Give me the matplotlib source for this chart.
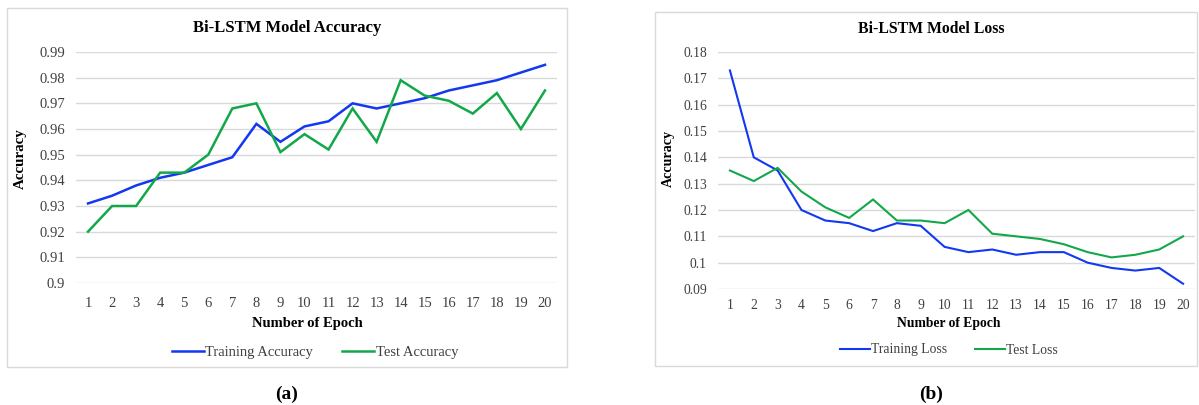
import numpy as np
import matplotlib.pyplot as plt
from matplotlib.patches import Rectangle
from matplotlib.ticker import FuncFormatter

plt.rcParams['font.family'] = ['Liberation Serif', 'DejaVu Serif']

epochs = list(range(1, 21))

train_acc = [0.931, 0.934, 0.938, 0.941, 0.943, 0.946, 0.949, 0.962, 0.955, 0.961,
             0.963, 0.970, 0.968, 0.970, 0.972, 0.975, 0.977, 0.979, 0.982, 0.985]
test_acc = [0.920, 0.930, 0.930, 0.943, 0.943, 0.950, 0.968, 0.970, 0.951, 0.958,
            0.952, 0.968, 0.955, 0.979, 0.973, 0.971, 0.966, 0.974, 0.960, 0.975]

train_loss = [0.173, 0.140, 0.135, 0.120, 0.116, 0.115, 0.112, 0.115, 0.114, 0.106,
              0.104, 0.105, 0.103, 0.104, 0.104, 0.100, 0.098, 0.097, 0.098, 0.092]
test_loss = [0.135, 0.131, 0.136, 0.127, 0.121, 0.117, 0.124, 0.116, 0.116, 0.115,
             0.120, 0.111, 0.110, 0.109, 0.107, 0.104, 0.102, 0.103, 0.105, 0.110]

acc_ticks = [0.90, 0.91, 0.92, 0.93, 0.94, 0.95, 0.96, 0.97, 0.98, 0.99]
loss_ticks = [0.09, 0.10, 0.11, 0.12, 0.13, 0.14, 0.15, 0.16, 0.17, 0.18]

BLUE = '#1238f0'
GREEN = '#12a84a'
GRID = '#d9d9d9'

W, H = 1199, 405
fig = plt.figure(figsize=(W / 100, H / 100), dpi=100)


def px_axes(x0, y0, x1, y1):
    # pixel box (top-left origin) -> figure axes
    return fig.add_axes([x0 / W, 1 - y1 / H, (x1 - x0) / W, (y1 - y0) / H])


def fx(x):
    return x / W


def fy(y):
    return 1 - y / H


def panel(box, area, series, ticks, title, title_xy, xlabel_xy, ylabel_xy,
          legend_xy, fs, lw, xpad):
    bx0, by0, bx1, by1 = box
    fig.patches.append(Rectangle((fx(bx0), fy(by1)), fx(bx1 - bx0), (by1 - by0) / H,
                                 transform=fig.transFigure, fill=False,
                                 edgecolor=GRID, linewidth=1.0))
    ax = px_axes(*area)
    for vals, color, label in series:
        ax.plot(epochs, vals, color=color, lw=lw, label=label,
                solid_joinstyle='miter')
    ax.set_xlim(0.5, 20.5)
    ax.set_ylim(ticks[0], ticks[-1])
    ax.set_xticks(epochs)
    ax.set_yticks(ticks)
    ax.yaxis.set_major_formatter(FuncFormatter(lambda v, p: '%g' % round(v, 3)))
    ax.tick_params(length=0, labelsize=fs, colors='#404040')
    ax.tick_params(axis='x', pad=xpad)
    ax.tick_params(axis='y', pad=8)
    ax.grid(axis='y', color=GRID, lw=1.0)
    ax.set_axisbelow(True)
    for s in ax.spines.values():
        s.set_visible(False)
    fig.text(fx(title_xy[0]), fy(title_xy[1]), title, ha='center', va='center',
             fontsize=fs + 1.5, fontweight='bold')
    fig.text(fx(xlabel_xy[0]), fy(xlabel_xy[1]), 'Number of Epoch', ha='center',
             va='center', fontsize=fs, fontweight='bold')
    fig.text(fx(ylabel_xy[0]), fy(ylabel_xy[1]), 'Accuracy', ha='center',
             va='center', fontsize=fs + 0.3, fontweight='bold', rotation=90)
    ax.legend(loc='center', bbox_to_anchor=(fx(legend_xy[0]), fy(legend_xy[1])),
              bbox_transform=fig.transFigure, ncol=2, frameon=False,
              fontsize=fs, handlelength=2.2, handletextpad=0.1,
              columnspacing=2.0, labelcolor='#404040')
    return ax


panel((7, 8, 567, 367), (76, 52, 557, 283),
      [(train_acc, BLUE, 'Training Accuracy'), (test_acc, GREEN, 'Test Accuracy')],
      acc_ticks, 'Bi-LSTM Model Accuracy', (287, 28), (307, 323), (20, 159),
      (315, 352), 10.5, 1.8, 10)

panel((655, 12, 1197, 366), (718, 52, 1195, 289),
      [(train_loss, BLUE, 'Training Loss'), (test_loss, GREEN, 'Test Loss')],
      loss_ticks, 'Bi-LSTM Model Loss', (931, 29), (949, 323), (668, 158),
      (949, 350), 9.8, 1.5, 7)

fig.text(fx(287), fy(394), '(a)', ha='center', va='center', fontsize=14,
         fontweight='bold')
fig.text(fx(931), fy(394), '(b)', ha='center', va='center', fontsize=14,
         fontweight='bold')

fig.savefig('out.png', dpi=100)
